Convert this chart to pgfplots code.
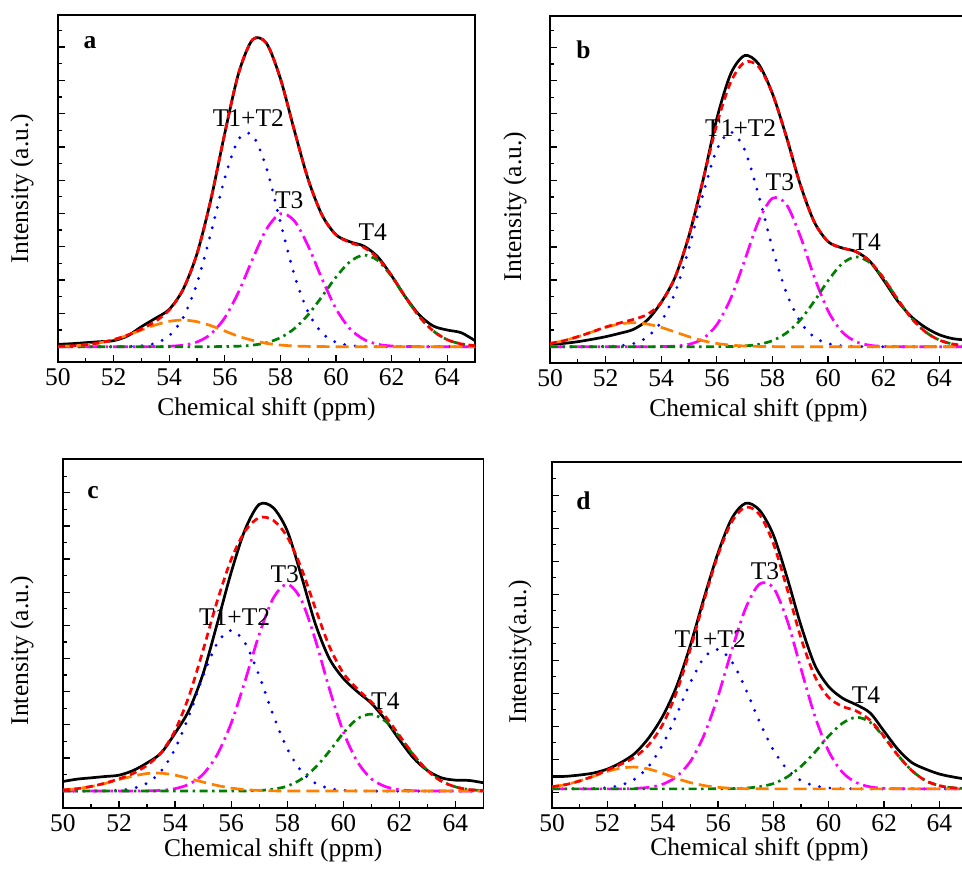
\documentclass[border=0pt]{standalone}
\usepackage{fontspec}
\setmainfont{Liberation Serif}
\usepackage{pgfplots}
\usepackage{pgfplotstable}
\pgfplotsset{compat=1.18}
\definecolor{cOrange}{RGB}{255,128,0}
\definecolor{cGreen}{RGB}{0,128,0}
\definecolor{cMag}{RGB}{255,0,255}
\definecolor{cBlue}{RGB}{0,0,255}
\definecolor{cRed}{RGB}{255,0,0}
\newcommand{\fs}{\fontsize{25.5}{30}\selectfont}

\pgfplotstableread{
x blk red blu mag grn org
50 0.07 0.010 0 0 0 0.010
50.5 0.09 0.025 0 0 0 0.025
51 0.12 0.057 0 0 0 0.057
51.5 0.15 0.116 0 0 0 0.116
52 0.18 0.21 0.001 0 0 0.21
52.5 0.32 0.35 0.006 0 0 0.34
53 0.60 0.53 0.027 0 0 0.50
53.5 0.85 0.76 0.105 0.003 0 0.65
54 1.12 1.10 0.33 0.012 0 0.76
54.5 1.72 1.72 0.87 0.045 0 0.80
55 2.79 2.79 1.90 0.142 0 0.75
55.5 4.42 4.42 3.41 0.38 0.001 0.63
56 6.41 6.41 5.06 0.87 0.005 0.47
56.5 8.22 8.22 6.24 1.65 0.015 0.31
57 9.22 9.22 6.35 2.63 0.046 0.19
57.5 9.11 9.11 5.36 3.53 0.118 0.10
58 8.05 8.05 3.74 3.99 0.27 0.049
58.5 6.50 6.50 2.16 3.78 0.54 0.021
59 5.02 5.02 1.03 3.02 0.96 0.008
59.5 3.95 3.95 0.41 2.03 1.51 0.003
60 3.36 3.36 0.13 1.14 2.09 0
60.5 3.15 3.13 0.036 0.54 2.55 0
61 3.02 2.98 0.008 0.22 2.75 0
61.5 2.70 2.66 0.001 0.072 2.59 0
62 2.13 2.13 0 0.020 2.11 0
62.5 1.49 1.49 0 0.005 1.48 0
63 0.95 0.90 0 0.001 0.90 0
63.5 0.62 0.47 0 0 0.47 0
64 0.50 0.21 0 0 0.21 0
64.5 0.42 0.083 0 0 0.083 0
65 0.18 0.028 0 0 0.028 0
}\tabA

\pgfplotstableread{
x blk red blu mag grn org
50 0.08 0.097 0 0 0 0.097
50.5 0.10 0.18 0 0 0 0.18
51 0.15 0.30 0 0 0 0.30
51.5 0.22 0.44 0.001 0 0 0.44
52 0.30 0.59 0.006 0 0 0.58
52.5 0.40 0.71 0.026 0 0 0.68
53 0.52 0.82 0.095 0 0 0.72
53.5 0.80 0.97 0.29 0 0 0.68
54 1.33 1.33 0.75 0.003 0 0.58
54.5 2.09 2.09 1.63 0.018 0 0.44
55 3.34 3.34 2.97 0.072 0 0.30
55.5 4.99 4.99 4.57 0.24 0 0.18
56 6.85 6.68 5.92 0.66 0.002 0.097
56.5 8.20 7.95 6.45 1.45 0.006 0.047
57 8.75 8.55 5.92 2.59 0.023 0.021
57.5 8.50 8.42 4.57 3.77 0.069 0.008
58 7.61 7.61 2.97 4.46 0.18 0.003
58.5 6.32 6.32 1.63 4.28 0.41 0
59 4.88 4.88 0.75 3.33 0.80 0
59.5 3.76 3.76 0.29 2.11 1.36 0
60 3.16 3.16 0.095 1.08 1.98 0
60.5 2.97 2.97 0.026 0.45 2.49 0
61 2.86 2.86 0.006 0.153 2.70 0
61.5 2.57 2.57 0 0.042 2.53 0
62 2.00 2.06 0 0.009 2.05 0
62.5 1.38 1.43 0 0.002 1.43 0
63 0.90 0.86 0 0 0.86 0
63.5 0.58 0.45 0 0 0.45 0
64 0.36 0.20 0 0 0.20 0
64.5 0.24 0.078 0 0 0.078 0
65 0.20 0.026 0 0 0.026 0
}\tabB

\pgfplotstableread{
x blk red blu mag grn org
50 0.29 0.034 0 0 0 0.034
50.5 0.36 0.073 0 0 0 0.073
51 0.40 0.14 0 0 0 0.14
51.5 0.44 0.24 0.006 0 0 0.23
52 0.48 0.37 0.023 0 0 0.35
52.5 0.62 0.53 0.082 0 0 0.45
53 0.85 0.78 0.24 0.006 0 0.53
53.5 1.15 1.16 0.60 0.022 0 0.54
54 1.75 1.83 1.28 0.074 0 0.48
54.5 2.45 2.88 2.29 0.21 0 0.38
55 3.55 4.26 3.48 0.51 0 0.27
55.5 5.05 5.73 4.46 1.10 0 0.17
56 6.60 6.99 4.85 2.05 0.001 0.091
56.5 7.90 7.85 4.46 3.34 0.005 0.044
57 8.65 8.25 3.48 4.73 0.018 0.019
57.5 8.55 8.17 2.29 5.82 0.056 0.007
58 7.85 7.67 1.28 6.24 0.15 0.002
58.5 6.50 6.73 0.60 5.77 0.36 0
59 5.05 5.52 0.24 4.57 0.71 0
59.5 4.00 4.37 0.082 3.09 1.20 0
60 3.40 3.56 0.023 1.79 1.75 0
60.5 3.00 3.08 0.006 0.89 2.18 0
61 2.65 2.69 0.001 0.37 2.32 0
61.5 2.15 2.25 0 0.136 2.11 0
62 1.55 1.68 0 0.042 1.64 0
62.5 1.00 1.10 0 0.011 1.09 0
63 0.62 0.62 0 0.002 0.62 0
63.5 0.40 0.30 0 0 0.30 0
64 0.33 0.127 0 0 0.127 0
64.5 0.32 0.045 0 0 0.045 0
65 0.25 0.014 0 0 0.014 0
}\tabC

\pgfplotstableread{
x blk red blu mag grn org
50 0.37 0.064 0 0 0 0.064
50.5 0.38 0.13 0 0 0 0.13
51 0.42 0.24 0.003 0 0 0.24
51.5 0.48 0.39 0.011 0 0 0.38
52 0.60 0.57 0.037 0 0 0.53
52.5 0.80 0.75 0.115 0 0 0.63
53 1.08 0.97 0.30 0.014 0 0.66
53.5 1.55 1.34 0.69 0.047 0 0.60
54 2.20 1.95 1.34 0.14 0 0.47
54.5 3.10 2.93 2.24 0.37 0 0.32
55 4.35 4.24 3.22 0.83 0 0.19
55.5 5.80 5.72 3.98 1.64 0 0.10
56 7.15 7.09 4.23 2.81 0.002 0.046
56.5 8.20 8.10 3.86 4.21 0.007 0.018
57 8.66 8.54 3.03 5.48 0.023 0.006
57.5 8.45 8.32 2.04 6.21 0.066 0.002
58 7.70 7.44 1.18 6.10 0.16 0
58.5 6.40 6.06 0.59 5.11 0.36 0
59 4.95 4.57 0.25 3.64 0.68 0
59.5 3.75 3.41 0.093 2.21 1.11 0
60 3.10 2.77 0.029 1.14 1.60 0
60.5 2.75 2.50 0.008 0.50 1.99 0
61 2.55 2.36 0.002 0.19 2.17 0
61.5 2.30 2.08 0 0.060 2.02 0
62 1.75 1.59 0 0.016 1.57 0
62.5 1.20 1.02 0 0.004 1.02 0
63 0.80 0.56 0 0.001 0.56 0
63.5 0.60 0.25 0 0 0.25 0
64 0.45 0.097 0 0 0.097 0
64.5 0.36 0.031 0 0 0.031 0
65 0.29 0.008 0 0 0.008 0
}\tabD

\pgfplotsset{
  nmr/.style={
    scale only axis,
    xmin=50, xmax=65,
    xtick={50,52,...,64}, minor x tick num=1,
    xtick pos=bottom, ytick pos=left,
    tick align=inside,
    yticklabels={},
    major tick length=7pt, minor tick length=4pt,
    tick style={line width=1.3pt, black},
    axis line style={line width=1.7pt},
    tick label style={font=\fs},
    xticklabel style={yshift=-3pt},
    label style={font=\fs},
    /pgf/number format/assume math mode=true,
    xlabel={Chemical shift (ppm)},
  },
  sblk/.style={black, line width=2.7pt, smooth},
  sred/.style={cRed, line width=2.7pt, smooth, dash pattern=on 7pt off 4.5pt},
  sblu/.style={cBlue, line width=3.2pt, smooth, line cap=round, dash pattern=on 0pt off 10.5pt},
  smag/.style={cMag, line width=2.7pt, smooth, dash pattern=on 15pt off 5pt on 2.5pt off 5pt},
  sgrn/.style={cGreen, line width=2.7pt, smooth, dash pattern=on 8pt off 4.5pt on 2.5pt off 4.5pt},
  sorg/.style={cOrange, line width=2.7pt, smooth, dash pattern=on 13pt off 6pt},
}

\newcommand{\curves}[1]{%
  \addplot[sblk] table[x=x,y=blk]{#1};
  \addplot[sblu] table[x=x,y=blu]{#1};
  \addplot[smag] table[x=x,y=mag]{#1};
  \addplot[sgrn] table[x=x,y=grn]{#1};
  \addplot[sorg] table[x=x,y=org]{#1};
  \addplot[sred] table[x=x,y=red]{#1};
}

\begin{document}
\begin{tikzpicture}
% panel a
\begin{axis}[nmr, at={(58pt,507pt)}, anchor=south west, width=417pt, height=347pt,
  ymin=-0.46, ymax=9.96, ytick={0,...,9}, minor ytick={-0.5,0.5,...,9.5},
  ylabel={Intensity (a.u.)},
  y label style={at={(axis description cs:-0.0863,0.5)}, anchor=center},
  x label style={at={(axis description cs:0.5,-0.135)}, anchor=center}]
  \curves{\tabA}
  \node[font=\fs\bfseries] at (axis cs:51.15,9.13) {a};
  \node[font=\fs, inner sep=0pt] at (axis cs:56.85,6.88) {T1+T2};
  \node[font=\fs, inner sep=0pt] at (axis cs:58.32,4.4) {T3};
  \node[font=\fs, inner sep=0pt] at (axis cs:61.32,3.45) {T4};
\end{axis}
% panel b
\begin{axis}[nmr, at={(550pt,506pt)}, anchor=south west, width=417pt, height=347pt,
  ymin=-0.49, ymax=9.94, ytick={0,...,9}, minor ytick={-0.5,0.5,...,9.5},
  ylabel={Intensity (a.u.)},
  y label style={at={(axis description cs:-0.084,0.451)}, anchor=center},
  x label style={at={(axis description cs:0.5,-0.135)}, anchor=center}]
  \curves{\tabB}
  \node[font=\fs\bfseries] at (axis cs:51.2,8.92) {b};
  \node[font=\fs, inner sep=0pt] at (axis cs:56.86,6.58) {T1+T2};
  \node[font=\fs, inner sep=0pt] at (axis cs:58.27,4.95) {T3};
  \node[font=\fs, inner sep=0pt] at (axis cs:61.39,3.15) {T4};
\end{axis}
% panel c
\begin{axis}[nmr, at={(63pt,61pt)}, anchor=south west, width=420.5pt, height=349pt,
  ymin=-0.51, ymax=10.02, ytick={0,...,9}, minor ytick={-0.5,0.5,...,9.5},
  ylabel={Intensity (a.u.)},
  y label style={at={(axis description cs:-0.0975,0.451)}, anchor=center},
  x label style={at={(axis description cs:0.5,-0.12)}, anchor=center}]
  \curves{\tabC}
  \node[font=\fs\bfseries] at (axis cs:51.07,9.0) {c};
  \node[font=\fs, inner sep=0pt] at (axis cs:56.12,5.24) {T1+T2};
  \node[font=\fs, inner sep=0pt] at (axis cs:57.91,6.55) {T3};
  \node[font=\fs, inner sep=0pt] at (axis cs:61.5,2.72) {T4};
\end{axis}
% panel d
\begin{axis}[nmr, at={(552pt,61pt)}, anchor=south west, width=415pt, height=346pt,
  ymin=-0.58, ymax=9.91, ytick={-0.1,0.9,...,8.9}, minor ytick={0.4,1.4,...,9.4},
  ylabel={Intensity(a.u.)},
  y label style={at={(axis description cs:-0.077,0.451)}, anchor=center},
  x label style={at={(axis description cs:0.5,-0.12)}, anchor=center}]
  \curves{\tabD}
  \node[font=\fs\bfseries] at (axis cs:51.14,8.74) {d};
  \node[font=\fs, inner sep=0pt] at (axis cs:55.72,4.55) {T1+T2};
  \node[font=\fs, inner sep=0pt] at (axis cs:57.7,6.59) {T3};
  \node[font=\fs, inner sep=0pt] at (axis cs:61.35,2.83) {T4};
\end{axis}
\pgfresetboundingbox
\path[use as bounding box] (0,0) rectangle (962pt,869pt);
\end{tikzpicture}
\end{document}
